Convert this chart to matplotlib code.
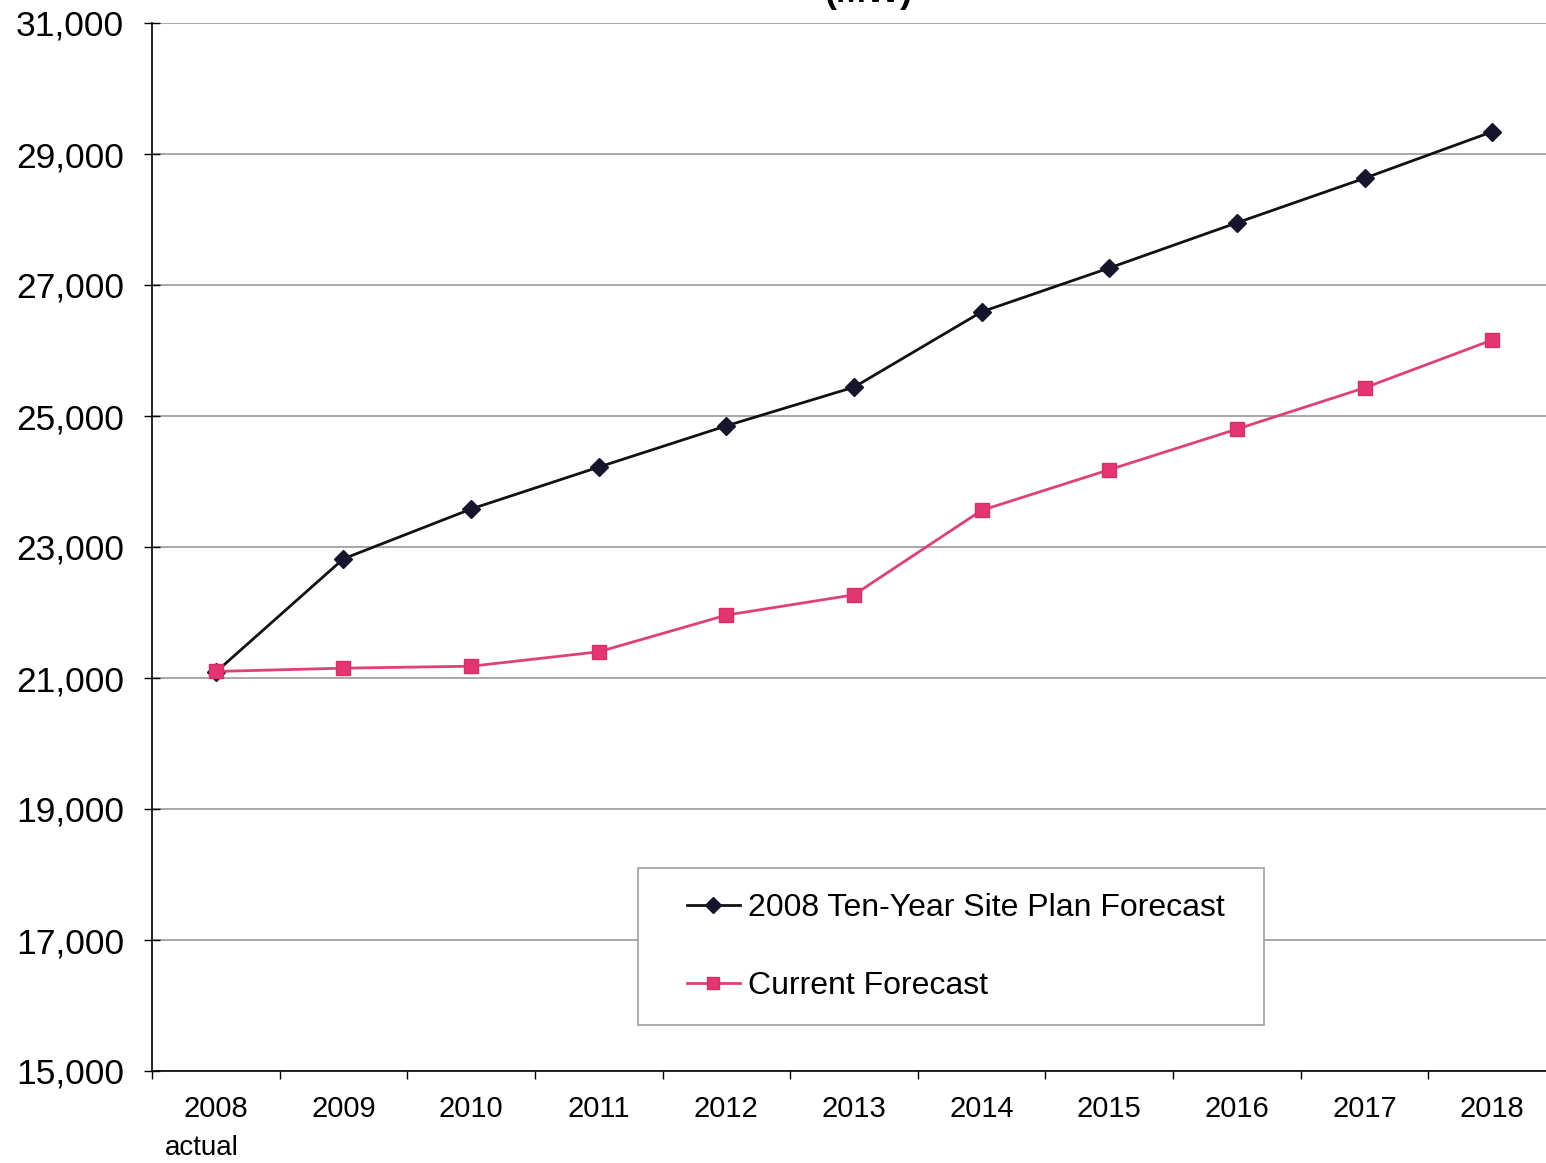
import matplotlib.pyplot as plt
import matplotlib.transforms as mtransforms
from matplotlib.patches import Rectangle

plt.rcParams['font.family'] = ['Liberation Sans', 'DejaVu Sans']

years = ["2008", "2009", "2010", "2011", "2012", "2013", "2014", "2015", "2016", "2017", "2018"]
site_plan = [21090, 22820, 23580, 24220, 24850, 25440, 26590, 27260, 27950, 28630, 29340]
current = [21100, 21150, 21180, 21400, 21960, 22270, 23560, 24180, 24800, 25430, 26160]
y_ticks = [15000, 17000, 19000, 21000, 23000, 25000, 27000, 29000, 31000]

W, H = 1546, 1163
fig = plt.figure(figsize=(W / 100, H / 100), dpi=100)
ax_left, ax_bottom, ax_w, ax_h = 152, 92, 1404, 1048
ax = fig.add_axes([ax_left / W, ax_bottom / H, ax_w / W, ax_h / H])


def px_to_axes(px, py):
    # pixel position (from top-left of the image) to axes fraction
    return (px - ax_left) / ax_w, (H - py - ax_bottom) / ax_h


x = list(range(len(years)))
ax.plot(x, site_plan, color="#111111", lw=2.0, marker="D", ms=9,
        mfc="#15152e", mec="#15152e", label="2008 Ten-Year Site Plan Forecast", zorder=3)
ax.plot(x, current, color="#e0407a", lw=2.0, marker="s", ms=10.5,
        mfc="#e33572", mec="#d92e68", label="Current Forecast", zorder=3)

ax.set_xlim(-0.5, len(years) - 0.5)
ax.set_ylim(15000, 31000)
ax.set_yticks(y_ticks)
ax.set_yticklabels([f"{v:,}" for v in y_ticks], fontsize=25.5)
ax.yaxis.grid(True, color="#9a9a9a", lw=1.2)
ax.set_axisbelow(True)

# category labels centred, tick marks between categories
ax.set_xticks(x)
ax.set_xticklabels(years, fontsize=21)
ax.tick_params(axis="x", length=0, pad=17)
ax.set_xticks([i - 0.5 for i in range(len(years) + 1)], minor=True)
ax.tick_params(axis="x", which="minor", length=6, width=1, direction="out")
ax.tick_params(axis="y", length=12, width=1, direction="inout", pad=14)

trans = mtransforms.blended_transform_factory(ax.transData, fig.transFigure)
ax.text(-0.11, 1 - 1148 / H, "actual", transform=trans, ha="center", va="center", fontsize=20)

for side in ["top", "right"]:
    ax.spines[side].set_visible(False)
ax.spines["left"].set_linewidth(1.2)
ax.spines["bottom"].set_linewidth(1.2)

# legend box drawn separately so its padding can be set freely
bx0, by0 = px_to_axes(638, 1025)
bx1, by1 = px_to_axes(1264, 868)
ax.add_patch(Rectangle((bx0, by0), bx1 - bx0, by1 - by0, transform=ax.transAxes,
                       facecolor="white", edgecolor="#a0a0a0", lw=1.2, zorder=4))
leg = ax.legend(loc="center left", bbox_to_anchor=px_to_axes(687, 947),
                fontsize=23, frameon=False, handlelength=1.65, handletextpad=0.25,
                labelspacing=1.5, borderpad=0, borderaxespad=0, markerscale=0.85)
leg.set_zorder(5)

fig.text(868 / W, 1 - 10 / H, "(MW)", ha="center", va="bottom",
         fontsize=26, fontweight="bold")

fig.savefig("out.png", dpi=100)
